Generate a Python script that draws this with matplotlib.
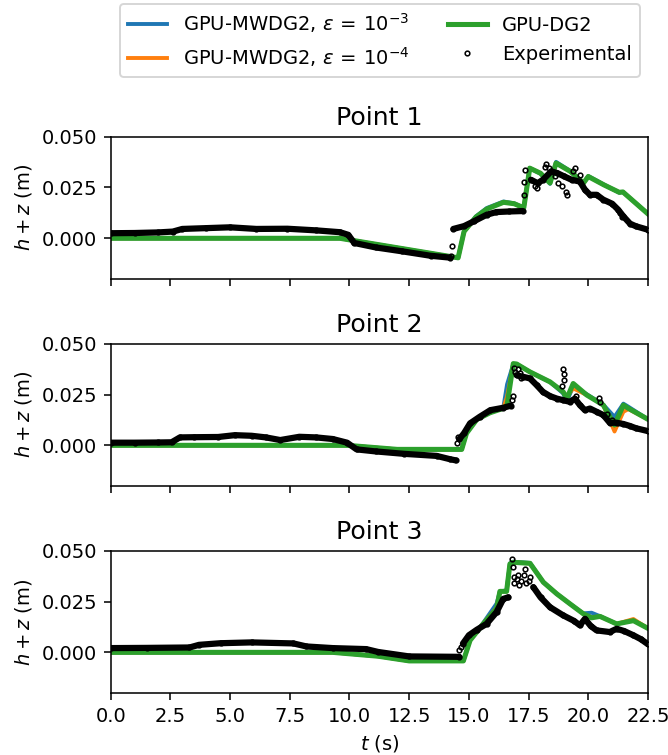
import numpy as np
import matplotlib
matplotlib.use('Agg')
import matplotlib.pyplot as plt

# ---- model output (shared time grid per point) ----
t_mod1 = [0, 9.6, 14.55, 14.8, 15.3, 15.75, 16.45, 16.9, 17.3, 17.55, 18.0, 18.4, 18.65,
          19.25, 19.8, 20.0, 20.65, 21.3, 21.45, 22.5]
dg2_1 = [0, 0, -0.0096, 0.0034, 0.0105, 0.0144, 0.0177, 0.0170, 0.0150, 0.0345, 0.032, 0.0272,
         0.0370, 0.0329, 0.0272, 0.0304, 0.0263, 0.0226, 0.0228, 0.0120]
mw3_1 = [0, 0, -0.0096, 0.0036, 0.0108, 0.0149, 0.0181, 0.0172, 0.0150, 0.0345, 0.0318, 0.0268,
         0.0376, 0.0331, 0.0270, 0.0306, 0.0265, 0.0224, 0.0228, 0.0121]
mw4_1 = [0, 0, -0.0096, 0.0032, 0.0104, 0.0145, 0.0178, 0.0170, 0.0150, 0.0345, 0.0321, 0.0272,
         0.0370, 0.0329, 0.0272, 0.0304, 0.0263, 0.0226, 0.0228, 0.0120]

t_mod2 = [0, 9.9, 12.0, 14.7, 14.9, 15.33, 15.88, 16.44, 16.6, 16.86, 17.0, 17.56, 18.4,
          18.95, 19.1, 19.37, 19.93, 20.63, 21.1, 21.47, 21.68, 22.5]
dg2_2 = [0, 0, -0.002, -0.002, 0.0059, 0.0127, 0.016, 0.0182, 0.0198, 0.0402, 0.0400, 0.0361,
         0.0312, 0.0263, 0.0230, 0.0304, 0.0248, 0.0198, 0.0100, 0.0198, 0.0182, 0.0128]
mw3_2 = [0, 0, -0.002, -0.002, 0.0062, 0.0130, 0.0162, 0.0184, 0.0300, 0.0400, 0.0400, 0.0361,
         0.0312, 0.0255, 0.0215, 0.0290, 0.0252, 0.0200, 0.0140, 0.0205, 0.0190, 0.0128]
mw4_2 = [0, 0, -0.002, -0.002, 0.0060, 0.0128, 0.0161, 0.0182, 0.0240, 0.0400, 0.0400, 0.0361,
         0.0312, 0.0263, 0.0240, 0.0280, 0.0248, 0.0198, 0.0068, 0.0165, 0.0178, 0.0128]

t_mod3 = [0, 9.3, 11.2, 12.5, 14.77, 15.05, 15.6, 16.16, 16.3, 16.58, 16.72, 16.86, 17.56,
          18.12, 18.68, 19.23, 19.79, 20.14, 20.49, 21.19, 21.89, 22.5]
dg2_3 = [0, 0, -0.0019, -0.0042, -0.0042, 0.0059, 0.014, 0.0215, 0.0300, 0.0300, 0.0435, 0.0443,
         0.0438, 0.0345, 0.0288, 0.0239, 0.0190, 0.0170, 0.0177, 0.0140, 0.0156, 0.0118]
mw3_3 = [0, 0, -0.0019, -0.0042, -0.0042, 0.0062, 0.0145, 0.0240, 0.0300, 0.0305, 0.0438, 0.0446,
         0.0440, 0.0345, 0.0288, 0.0239, 0.0192, 0.0195, 0.0178, 0.0140, 0.0158, 0.0118]
mw4_3 = [0, 0, -0.0019, -0.0042, -0.0042, 0.0060, 0.0142, 0.0220, 0.0300, 0.0300, 0.0435, 0.0443,
         0.0438, 0.0345, 0.0288, 0.0239, 0.0190, 0.0172, 0.0177, 0.0140, 0.0164, 0.0118]

# ---- experimental gauges (nan breaks the trace) ----
t_exp1 = [0, 1, 2, 2.6, 3.0, 4.0, 5.0, 6.1, 7.4, 8.6, 9.6, 9.95, 10.2, 11.1, 12.2, 13.4, 14.2,
          np.nan,
          14.35, 14.8, 15.2, 15.75, 16.15, 16.7, 17.25,
          np.nan,
          17.6, 17.88, 18.1, 18.45, 18.7, 19.0, 19.3, 19.65, 19.86, 20.07, 20.35, 20.63, 21.0,
          21.25, 21.47, 21.75, 22.0, 22.5]
h_exp1 = [0.0025, 0.0026, 0.0029, 0.0033, 0.0046, 0.0050, 0.0054, 0.0046, 0.0047, 0.0039, 0.0030,
          0.0017, -0.0023, -0.0045, -0.0064, -0.0086, -0.0095,
          np.nan,
          0.0046, 0.0060, 0.0083, 0.0116, 0.0129, 0.0132, 0.0134,
          np.nan,
          0.0288, 0.0271, 0.0288, 0.0329, 0.0321, 0.0304, 0.0288, 0.0279, 0.0239, 0.0214, 0.0214,
          0.0190, 0.0170, 0.0141, 0.0108, 0.0072, 0.0059, 0.0042]
t_sc1 = [14.28, 14.25, 17.3, 17.32, 17.36, 17.75, 17.85, 18.2, 18.25, 18.35, 18.6, 18.75, 18.9,
         19.05, 19.1, 19.35, 19.45, 19.65, 21.35, 21.4]
h_sc1 = [-0.0036, -0.0085, 0.0215, 0.0275, 0.0335, 0.0255, 0.0245, 0.0350, 0.0365, 0.0345, 0.0305,
         0.0270, 0.0255, 0.0230, 0.0215, 0.0330, 0.0345, 0.0310, 0.0125, 0.0105]

t_exp2 = [0, 1.0, 2.0, 2.55, 2.9, 3.5, 4.5, 5.2, 5.9, 6.5, 7.1, 7.9, 8.6, 9.3, 9.9, 10.3, 11.1,
          12.3, 13.65, 14.2, 14.45,
          np.nan,
          14.6, 14.8, 15.05, 15.45, 15.9, 16.45, 16.75,
          np.nan,
          17.0, 17.28, 17.56, 17.84, 18.1, 18.4, 18.68, 18.95, 19.23, 19.44, 19.65, 19.86, 20.07,
          20.35, 20.63, 20.9, 21.19, 21.47, 21.75, 22.0, 22.5]
h_exp2 = [0.0013, 0.0013, 0.0014, 0.0015, 0.0039, 0.0040, 0.0041, 0.0050, 0.0047, 0.0039, 0.0026,
          0.0042, 0.0039, 0.0031, 0.0013, -0.0020, -0.0030, -0.0042, -0.0052, -0.0068, -0.0074,
          np.nan,
          0.0030, 0.0060, 0.0108, 0.0140, 0.0173, 0.0185, 0.0195,
          np.nan,
          0.0345, 0.0337, 0.0329, 0.0296, 0.0263, 0.0242, 0.0230, 0.0222, 0.0214, 0.0230, 0.0198,
          0.0173, 0.0181, 0.0165, 0.0149, 0.0111, 0.0111, 0.0105, 0.0095, 0.0084, 0.0070]
t_sc2 = [14.5, 14.55, 16.8, 16.85, 16.9, 16.95, 17.05, 17.15, 17.2, 18.9, 18.95, 18.98, 19.0,
         19.5, 20.45, 20.5, 20.8, 21.0]
h_sc2 = [0.0010, 0.0043, 0.0222, 0.0245, 0.0380, 0.0360, 0.0375, 0.0355, 0.0330, 0.0290, 0.0375,
         0.0350, 0.0322, 0.0245, 0.0232, 0.0215, 0.0155, 0.0125]

t_exp3 = [0, 1.5, 3.3, 3.7, 4.6, 5.9, 7.65, 8.2, 9.3, 10.7, 11.2, 12.5, 14.6,
          np.nan,
          14.75, 15.0, 15.33, 15.74, 16.16, 16.44, 16.65,
          np.nan,
          17.7, 18.0, 18.4, 18.95, 19.4, 19.65, 19.86, 20.1, 20.35, 20.9, 21.19, 21.5, 21.89,
          22.2, 22.5]
h_exp3 = [0.0021, 0.0022, 0.0024, 0.0037, 0.0045, 0.0049, 0.0044, 0.0029, 0.0021, 0.0016, 0.0002,
          -0.0020, -0.0022,
          np.nan,
          0.0043, 0.0084, 0.0111, 0.0140, 0.0198, 0.0263, 0.0271,
          np.nan,
          0.0321, 0.0271, 0.0222, 0.0182, 0.0155, 0.0133, 0.0165, 0.0130, 0.0108, 0.0100, 0.0116,
          0.0105, 0.0084, 0.0065, 0.0040]
t_sc3 = [14.6, 14.65, 16.8, 16.85, 16.88, 16.9, 17.0, 17.05, 17.1, 17.2, 17.3, 17.35, 17.4, 17.5,
         17.55]
h_sc3 = [0.0011, 0.0025, 0.0459, 0.0418, 0.0370, 0.0340, 0.0360, 0.0380, 0.0330, 0.0350, 0.0380,
         0.0410, 0.0340, 0.0350, 0.0370]

points = [
    ('Point 1', t_mod1, mw3_1, mw4_1, dg2_1, t_exp1, h_exp1, t_sc1, h_sc1),
    ('Point 2', t_mod2, mw3_2, mw4_2, dg2_2, t_exp2, h_exp2, t_sc2, h_sc2),
    ('Point 3', t_mod3, mw3_3, mw4_3, dg2_3, t_exp3, h_exp3, t_sc3, h_sc3),
]

fig, axes = plt.subplots(3, 1, figsize=(668 / 140, 755 / 140), dpi=140, sharex=True)
fig.subplots_adjust(left=0.1657, right=0.970, top=0.819, bottom=0.0821, hspace=0.455)

for ax, (title, tm, mw3, mw4, dg2, te, he, ts, hs) in zip(axes, points):
    ax.plot(tm, mw3, color='C0', lw=2, label=r'GPU-MWDG2, $\epsilon\,=\,10^{-3}$')
    ax.plot(tm, mw4, color='C1', lw=2, label=r'GPU-MWDG2, $\epsilon\,=\,10^{-4}$')
    ax.plot(tm, dg2, color='C2', lw=2.6, label='GPU-DG2')
    ax.plot(te, he, color='k', lw=3.2, solid_capstyle='round')
    ax.plot(te, he, 'o', color='k', mfc='none', ms=2.4, mew=0.8, label='Experimental')
    ax.plot(ts, hs, 'o', color='k', mfc='none', ms=2.4, mew=0.8)
    ax.set_title(title, fontsize=13)
    ax.set_xlim(0, 22.5)
    ax.set_ylim(-0.02, 0.05)
    ax.set_yticks([0, 0.025, 0.05])
    ax.set_ylabel('$h + z$ (m)')

axes[-1].set_xlabel('$t$ (s)')
axes[-1].set_xticks(np.arange(0, 22.6, 2.5))

handles, labels = axes[0].get_legend_handles_labels()
fig.legend(handles, labels, loc='upper center', bbox_to_anchor=(0.569, 1.008), ncol=2)

fig.savefig('out.png', dpi=140)
